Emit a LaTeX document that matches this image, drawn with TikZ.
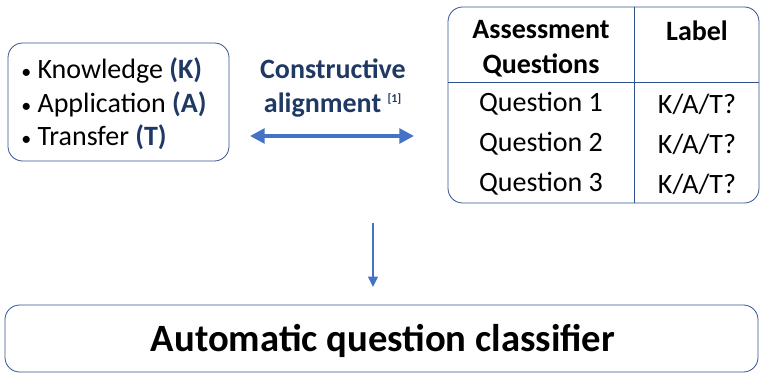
\documentclass[tikz,border=0pt]{standalone}
\usepackage{fontspec}
\setmainfont{Carlito}
\usetikzlibrary{arrows.meta, positioning}
\definecolor{navy}{RGB}{31, 56, 100}
\definecolor{arrowblue}{RGB}{68, 114, 196}
\definecolor{frameblue}{RGB}{47, 82, 143}
\newcommand{\dotitem}{{\fontsize{15}{15}\selectfont\textbullet}\ }

\begin{document}
\begin{tikzpicture}[
    x=0.75pt, y=-0.75pt,
    frame/.style={draw=frameblue, line width=0.6pt, rounded corners=11pt, inner sep=0pt},
    cell/.style={font=\fontsize{21}{25}\selectfont, inner sep=0pt},
    head/.style={cell, font=\fontsize{21}{26}\selectfont\bfseries, align=center},
    link/.style={draw=arrowblue, line width=2pt, -{Triangle[length=8pt, width=7pt]}}
]
\useasboundingbox (0,0) rectangle (760,377);

% Learning outcome levels
\node (levels) [frame, minimum width=221*0.75pt, minimum height=118*0.75pt] at (118.5,102) {};
\node (levelstext) [anchor=west, inner sep=0pt, align=left, font=\fontsize{21}{25}\selectfont] at (21,104) {%
  \dotitem Knowledge \textcolor{navy}{\textbf{(K)}}\\
  \dotitem Application \textcolor{navy}{\textbf{(A)}}\\
  \dotitem Transfer \textcolor{navy}{\textbf{(T)}}};

% Alignment between levels and questions
\node (align) [head, text=navy] at (333,88) {Constructive\\alignment \textsuperscript{\fontsize{9}{10}\selectfont [1]}};
\coordinate (alignL) at (250,136);
\coordinate (alignR) at (414,136);
\draw [draw=arrowblue, line width=2.6pt, {Triangle[length=11pt, width=11pt]}-{Triangle[length=11pt, width=11pt]}] (alignL) -- (alignR);

% Question table
\node (qtable) [frame, minimum width=311*0.75pt, minimum height=196*0.75pt] at (603.5,105) {};
\coordinate (colsep) at (634,105);
\coordinate (rowsep) at (603,82);
\draw [frameblue, line width=0.6pt] (colsep |- qtable.north) -- (colsep |- qtable.south);
\draw [frameblue, line width=0.6pt] (rowsep -| qtable.west) -- (rowsep -| qtable.east);
\node (qhead) [head] at (541,49) {Assessment\\Questions};
\node (lhead) [head] at (697,31) {Label};
\foreach \i/\y in {1/104, 2/144, 3/184} {
    \node (q\i) [cell] at (541,\y) {Question \i};
    \node (l\i) [cell] at (697,\y) {K/A/T?};
}

% Classifier
\node (classifier) [frame, minimum width=753*0.75pt, minimum height=67*0.75pt, font=\fontsize{29}{32}\selectfont\bfseries] at (381.5,338.5) {};
\node (classtext) [font=\fontsize{29}{32}\selectfont\bfseries, inner sep=0pt] at (383,341) {Automatic question classifier};
\coordinate (feed) at (373,223);
\draw [link, shorten >=13pt] (feed) -- (feed |- classifier.north);

\end{tikzpicture}
\end{document}
